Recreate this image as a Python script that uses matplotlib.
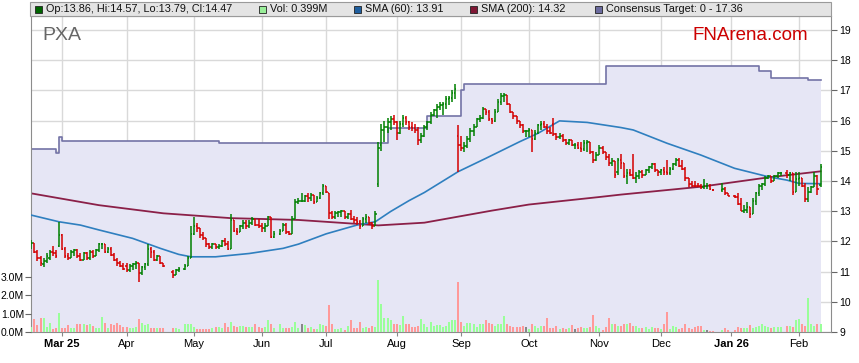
import numpy as np
import pandas as pd
import matplotlib
matplotlib.use("Agg")
import matplotlib.pyplot as plt
from matplotlib.patches import Rectangle

plt.rcParams['font.family'] = ['Liberation Sans', 'DejaVu Sans']

# ASX trading days shown (weekday axis, holidays left as gaps)
start = '2025-02-17'
holidays = ['2025-04-18', '2025-04-21', '2025-04-25', '2025-06-09',
            '2025-12-25', '2025-12-26', '2026-01-01', '2026-01-26']
days = pd.bdate_range(start, '2026-02-11')
days = days[~days.isin(pd.to_datetime(holidays))]

# daily OHLC + volume (M), month by month
opens = [
    11.80, 11.95, 11.65, 11.45, 11.25, 11.35, 11.45, 11.65, 11.60, 11.85,  # Feb
    12.20, 11.75, 11.50, 11.45, 11.65, 11.70, 11.50, 11.40, 11.60, 11.45, 11.65,
    11.50, 11.70, 11.90, 11.92, 11.65, 11.75, 11.55, 11.40, 11.30, 11.20,  # Mar
    11.20, 11.05, 11.20, 11.25, 11.30, 10.95, 11.15, 11.25, 11.75, 11.65, 11.40,
    11.50, 11.30, 11.00, 10.90, 11.05, 11.10, 11.20, 11.45,  # Apr
    12.25, 12.50, 12.45, 12.20, 12.10, 11.90, 11.80, 11.90, 11.80, 11.85, 12.00,
    11.90, 11.75, 12.70, 12.35, 12.30, 12.50, 12.60, 12.50, 12.60, 12.75, 12.55,  # May
    12.50, 12.45, 12.50, 12.80, 12.15, 12.25, 12.35, 12.55, 12.30, 12.25, 12.75,
    13.30, 13.35, 13.35, 13.50, 13.45, 13.55, 13.30, 13.45, 13.60,  # Jun
    13.85, 13.60, 12.95, 12.80, 12.95, 12.98, 13.00, 12.80, 12.90, 12.75, 12.70,
    12.65, 12.50, 12.75, 12.80, 12.60, 12.50, 13.90, 15.20, 15.70, 15.80, 15.95, 16.05,  # Jul
    15.95, 15.60, 15.90, 16.10, 15.95, 15.80, 15.75, 15.70, 15.35, 15.50, 15.80,
    15.95, 16.20, 16.35, 16.45, 16.50, 16.55, 16.70, 16.75, 16.90, 15.50,  # Aug
    15.20, 15.10, 15.15, 15.40, 15.65, 15.80, 16.05, 16.10, 16.40, 16.30, 16.05,
    16.00, 16.30, 16.60, 16.80, 16.85, 16.55, 16.30, 16.15, 16.00, 15.85, 15.65,  # Sep
    15.65, 15.70, 15.40, 15.60, 15.85, 15.90, 15.80, 15.65, 15.90, 15.55, 15.45, 15.50,
    15.35, 15.25, 15.35, 15.20, 15.20, 15.10, 15.05, 15.25, 15.30, 14.95, 14.70,  # Oct
    14.85, 15.10, 14.95, 14.80, 14.60, 14.65, 14.30, 14.70, 14.60, 14.15,
    14.25, 14.20, 14.10, 14.15, 14.30, 14.20, 14.35, 14.45, 14.55, 14.35,  # Nov
    14.30, 14.38, 14.30, 14.25, 14.40, 14.55, 14.70, 14.50, 14.40, 14.10, 13.90,
    13.85, 13.84, 13.82, 13.80, 13.85, 13.85, 13.70, 13.70, 13.72, 13.60,  # Dec
    13.50, 13.48, 13.25, 13.00, 13.05, 13.15, 12.90, 13.35, 13.60, 13.85,
    13.90, 14.10, 14.15, 14.00, 14.15, 14.25, 14.28, 14.20, 14.25, 13.65,  # Jan
    14.05, 14.10, 13.85, 13.40, 13.65, 13.80, 14.15, 13.86,  # Feb
]
highs = [
    12.05, 11.95, 11.70, 11.50, 11.45, 11.60, 11.70, 11.85, 11.70, 12.65,
    12.25, 11.80, 11.60, 11.70, 11.75, 11.75, 11.60, 11.65, 11.65, 11.70, 11.70,
    11.75, 11.95, 11.95, 11.92, 11.80, 11.80, 11.60, 11.45, 11.35, 11.30,
    11.30, 11.25, 11.30, 11.35, 11.30, 11.20, 11.30, 11.90, 11.80, 11.70, 11.55,
    11.50, 11.30, 11.05, 11.10, 11.15, 11.25, 11.50, 12.50,
    12.80, 12.60, 12.45, 12.30, 12.10, 11.95, 11.95, 11.90, 11.90, 12.05, 12.10,
    12.00, 12.90, 12.70, 12.45, 12.55, 12.70, 12.70, 12.70, 12.80, 12.75, 12.75,
    12.60, 12.60, 12.85, 12.80, 12.35, 12.40, 12.60, 12.60, 12.35, 12.85, 13.40,
    13.45, 13.60, 13.55, 13.60, 13.60, 13.55, 13.50, 13.65, 13.90,
    13.85, 13.60, 13.00, 13.00, 13.00, 13.05, 13.00, 12.95, 13.05, 12.85, 12.80,
    12.70, 12.80, 12.90, 12.80, 12.65, 13.00, 15.30, 15.90, 16.00, 16.10, 16.15, 16.20,
    16.00, 16.00, 16.20, 16.15, 16.00, 15.95, 15.90, 15.80, 15.60, 15.85, 16.00,
    16.30, 16.40, 16.55, 16.60, 16.60, 16.80, 16.80, 17.00, 17.20, 15.85,
    15.50, 15.30, 15.50, 15.75, 15.90, 16.10, 16.20, 16.45, 16.40, 16.35, 16.10,
    16.40, 16.70, 16.90, 16.90, 16.85, 16.55, 16.30, 16.15, 16.00, 15.90, 15.70,
    15.75, 15.70, 15.70, 15.90, 16.00, 16.00, 15.90, 15.80, 16.10, 15.60, 15.60, 15.55,
    15.40, 15.40, 15.35, 15.25, 15.30, 15.30, 15.35, 15.35, 15.30, 15.00, 14.95,
    15.20, 15.15, 14.95, 14.90, 14.75, 14.65, 14.75, 14.90, 14.60, 14.40,
    14.40, 14.90, 14.30, 14.35, 14.35, 14.40, 14.50, 14.60, 14.60, 14.35,
    14.40, 14.45, 14.70, 14.45, 14.60, 14.75, 14.75, 14.70, 14.45, 14.10, 14.00,
    14.00, 13.95, 13.90, 14.05, 13.95, 13.90, 13.72, 13.95, 13.80, 13.60,
    13.55, 13.60, 13.45, 13.20, 13.30, 13.15, 13.45, 13.65, 13.90, 13.95,
    14.15, 14.20, 14.15, 14.20, 14.30, 14.30, 14.35, 14.30, 14.25, 14.30,
    14.30, 14.10, 13.95, 13.80, 13.85, 14.30, 14.20, 14.57,
]
lows = [
    11.75, 11.60, 11.35, 11.20, 11.15, 11.30, 11.40, 11.50, 11.45, 11.80,
    11.70, 11.45, 11.40, 11.45, 11.50, 11.45, 11.35, 11.40, 11.40, 11.40, 11.45,
    11.50, 11.65, 11.75, 11.60, 11.60, 11.50, 11.35, 11.20, 11.15, 11.05,
    11.00, 11.00, 11.05, 11.10, 10.67, 10.90, 11.05, 11.20, 11.45, 11.35, 11.35,
    11.25, 11.15, 10.80, 10.90, 11.00, 11.05, 11.20, 11.45,
    12.20, 12.30, 12.10, 12.05, 11.80, 11.75, 11.75, 11.75, 11.75, 11.80, 11.85,
    11.70, 11.75, 12.30, 12.20, 12.30, 12.40, 12.40, 12.45, 12.55, 12.50, 12.45,
    12.30, 12.30, 12.50, 12.10, 12.10, 12.20, 12.35, 12.25, 12.20, 12.25, 12.75,
    13.25, 13.30, 13.30, 13.30, 13.35, 13.25, 13.30, 13.40, 13.55,
    13.60, 12.75, 12.75, 12.75, 12.80, 12.80, 12.75, 12.75, 12.70, 12.60, 12.55,
    12.40, 12.50, 12.60, 12.55, 12.40, 12.50, 13.80, 15.00, 15.30, 15.60, 15.70, 15.85,
    15.35, 15.55, 15.80, 15.85, 15.70, 15.65, 15.60, 15.20, 15.25, 15.45, 15.70,
    15.90, 16.15, 16.10, 16.35, 16.20, 16.40, 16.50, 16.60, 16.70, 14.30,
    15.00, 14.95, 15.10, 15.30, 15.50, 15.80, 15.95, 16.05, 16.20, 16.00, 15.90,
    15.95, 16.30, 16.50, 16.60, 16.50, 16.25, 16.05, 15.90, 15.75, 15.60, 15.45,
    15.45, 14.95, 15.35, 15.55, 15.70, 15.75, 15.55, 15.55, 15.50, 15.35, 15.40, 15.30,
    15.20, 15.20, 15.15, 15.05, 15.05, 14.95, 15.00, 14.95, 14.90, 14.60, 14.65,
    14.85, 14.90, 14.70, 14.50, 14.50, 14.10, 14.20, 14.40, 14.10, 13.90,
    14.15, 14.05, 13.95, 14.05, 14.10, 14.20, 14.25, 14.40, 14.30, 14.15,
    14.20, 14.20, 14.20, 14.20, 14.35, 14.50, 14.45, 14.35, 14.00, 13.80, 13.80,
    13.80, 13.80, 13.75, 13.75, 13.75, 13.70, 13.68, 13.65, 13.55, 13.50,
    13.45, 13.20, 13.00, 12.95, 12.95, 12.76, 12.90, 13.20, 13.50, 13.70,
    13.85, 14.05, 13.95, 14.00, 14.10, 14.15, 14.10, 14.00, 13.55, 13.65,
    13.85, 13.80, 13.30, 13.30, 13.60, 13.80, 13.55, 13.79,
]
closes = [
    11.95, 11.65, 11.45, 11.30, 11.35, 11.50, 11.65, 11.60, 11.50, 12.20,
    11.75, 11.50, 11.45, 11.65, 11.70, 11.50, 11.40, 11.60, 11.45, 11.65, 11.50,
    11.70, 11.90, 11.92, 11.65, 11.75, 11.55, 11.40, 11.30, 11.20, 11.10,
    11.05, 11.20, 11.25, 11.30, 10.95, 11.15, 11.25, 11.75, 11.65, 11.40, 11.50,
    11.30, 11.20, 10.90, 11.05, 11.10, 11.20, 11.45, 12.25,
    12.50, 12.45, 12.20, 12.10, 11.90, 11.80, 11.90, 11.80, 11.85, 12.00, 11.90,
    11.75, 12.70, 12.35, 12.30, 12.50, 12.60, 12.50, 12.60, 12.75, 12.55, 12.50,
    12.45, 12.50, 12.80, 12.15, 12.25, 12.35, 12.55, 12.30, 12.25, 12.75, 13.30,
    13.35, 13.35, 13.50, 13.45, 13.55, 13.30, 13.45, 13.60, 13.85,
    13.65, 12.95, 12.80, 12.95, 12.98, 13.00, 12.80, 12.90, 12.75, 12.70, 12.65,
    12.50, 12.75, 12.80, 12.60, 12.50, 12.90, 15.10, 15.70, 15.80, 15.95, 16.05, 15.95,
    15.60, 15.90, 16.10, 15.95, 15.80, 15.75, 15.70, 15.35, 15.50, 15.80, 15.95,
    16.20, 16.35, 16.45, 16.50, 16.55, 16.70, 16.75, 16.90, 17.05, 15.20,
    15.10, 15.15, 15.40, 15.65, 15.80, 16.05, 16.10, 16.40, 16.30, 16.05, 16.00,
    16.30, 16.60, 16.80, 16.85, 16.55, 16.30, 16.15, 16.00, 15.85, 15.65, 15.65,
    15.70, 15.40, 15.60, 15.85, 15.90, 15.80, 15.65, 15.60, 15.55, 15.45, 15.50, 15.35,
    15.25, 15.35, 15.20, 15.20, 15.10, 15.05, 15.25, 15.30, 14.95, 14.70, 14.85,
    15.10, 14.95, 14.80, 14.60, 14.65, 14.20, 14.70, 14.60, 14.15, 14.25,
    14.20, 14.10, 14.15, 14.30, 14.20, 14.35, 14.45, 14.55, 14.35, 14.30,
    14.38, 14.30, 14.25, 14.40, 14.55, 14.70, 14.50, 14.40, 14.10, 13.90, 13.85,
    13.84, 13.82, 13.80, 13.85, 13.85, 13.75, 13.70, 13.72, 13.60, 13.50,
    13.48, 13.25, 13.00, 13.05, 13.15, 12.90, 13.35, 13.60, 13.85, 13.90,
    14.10, 14.15, 14.00, 14.15, 14.25, 14.28, 14.20, 14.25, 13.65, 14.05,
    14.10, 13.85, 13.40, 13.65, 13.80, 14.15, 13.75, 14.47,
]
volumes = [
    0.27, 0.69, 0.38, 0.76, 0.76, 0.27, 0.49, 0.15, 0.20, 1.04,
    0.20, 0.20, 0.38, 0.20, 0.20, 0.42, 0.45, 0.42, 0.38, 0.42, 0.33,
    0.20, 0.20, 0.82, 0.47, 0.20, 0.42, 0.38, 0.50, 0.38, 0.27,
    0.27, 0.20, 0.20, 0.27, 0.69, 0.49, 0.38, 0.42, 0.18, 0.20, 0.20,
    0.20, 0.20, 0.20, 0.20, 0.15, 0.42, 0.42, 0.42,
    0.27, 0.13, 0.13, 0.15, 0.15, 0.15, 0.20, 0.27, 0.27, 0.20, 0.50,
    0.27, 0.55, 0.29, 0.27, 0.33, 0.33, 0.27, 0.27, 0.27, 0.42, 0.27,
    0.20, 0.27, 0.64, 0.42, 0.20, 0.42, 0.20, 0.20, 0.20, 0.27, 0.55,
    0.20, 0.43, 0.36, 0.22, 0.27, 0.16, 0.15, 0.40, 0.38,
    0.33, 1.45, 0.42, 0.15, 0.15, 0.20, 0.08, 0.33, 0.67, 0.20, 0.20,
    0.55, 0.20, 0.27, 0.20, 0.33, 0.27, 2.85, 1.53, 0.73, 0.76, 0.67, 0.40,
    0.45, 0.38, 0.87, 0.40, 0.45, 0.27, 0.27, 0.33, 0.71, 0.45, 0.27,
    0.55, 0.33, 0.36, 0.36, 0.27, 0.33, 0.55, 0.67, 0.67, 2.76,
    0.55, 0.33, 0.50, 0.50, 0.40, 0.27, 0.45, 0.45, 0.64, 0.50, 0.40,
    0.33, 0.45, 0.45, 0.87, 0.40, 0.33, 0.27, 0.27, 0.27, 0.33, 0.27,
    0.15, 0.45, 0.33, 0.20, 0.33, 0.33, 0.73, 0.20, 0.20, 0.33, 0.15, 0.20,
    0.15, 0.20, 0.36, 0.15, 0.20, 0.27, 0.20, 0.20, 0.27, 0.93, 0.33,
    0.20, 0.10, 0.27, 0.76, 0.42, 0.45, 0.33, 0.33, 0.40, 0.40,
    0.50, 0.33, 0.33, 0.22, 0.20, 0.27, 0.15, 0.27, 0.20, 0.20,
    0.15, 0.42, 1.07, 0.15, 0.30, 0.27, 0.15, 0.20, 0.40, 0.20, 0.15,
    0.25, 0.33, 0.30, 0.10, 0.10, 0.04, 0.02, 0.10, 0.20, 0.10,
    0.10, 0.27, 0.22, 0.22, 0.22, 0.38, 0.22, 0.27, 0.33, 0.45,
    0.29, 0.24, 0.22, 0.27, 0.27, 0.27, 0.33, 0.33, 0.27, 0.64,
    0.69, 0.45, 0.33, 1.87, 0.45, 0.33, 0.40, 0.399,
]

# moving averages, sampled along the drawn lines
sma60_dates = ['2025-02-17', '2025-02-28', '2025-03-11', '2025-03-19', '2025-04-03',
               '2025-04-16', '2025-04-24', '2025-04-30', '2025-05-12', '2025-05-27',
               '2025-06-11', '2025-06-18', '2025-07-01', '2025-07-15', '2025-07-23',
               '2025-07-30', '2025-08-07', '2025-08-14', '2025-08-29', '2025-09-11',
               '2025-09-26', '2025-10-06', '2025-10-15', '2025-10-28', '2025-11-12',
               '2025-11-18', '2025-12-03', '2025-12-18', '2026-01-02', '2026-01-19',
               '2026-01-27', '2026-02-02', '2026-02-11']
sma60_vals = [12.87, 12.65, 12.54, 12.38, 12.10, 11.77, 11.57, 11.49, 11.49, 11.60,
              11.77, 11.91, 12.25, 12.54, 12.65, 12.99, 13.35, 13.62, 14.31, 14.75,
              15.30, 15.58, 15.99, 15.94, 15.77, 15.69, 15.25, 14.86, 14.42, 14.14,
              14.03, 13.92, 13.91]
sma200_dates = ['2025-02-17', '2025-03-19', '2025-04-17', '2025-05-19', '2025-06-18',
                '2025-07-15', '2025-07-24', '2025-08-14', '2025-08-29', '2025-09-15',
                '2025-10-01', '2025-11-03', '2025-11-12', '2025-12-18', '2026-01-19',
                '2026-02-11']
sma200_vals = [13.59, 13.20, 12.93, 12.77, 12.71, 12.58, 12.53, 12.62, 12.82, 13.02,
               13.22, 13.47, 13.55, 13.81, 14.12, 14.32]

# consensus target (changes)
target_dates = ['2025-02-17', '2025-02-27', '2025-02-28', '2025-03-03', '2025-05-13',
                '2025-07-29', '2025-08-15', '2025-09-01', '2025-09-02', '2025-11-05',
                '2026-01-14', '2026-01-20', '2026-02-05', '2026-02-11']
target_vals = [15.07, 14.92, 15.47, 15.33, 15.25, 15.74, 16.15, 17.00, 17.20, 17.80,
               17.65, 17.40, 17.36, 17.36]

month_dates = ['2025-03-03', '2025-04-01', '2025-05-01', '2025-06-02', '2025-07-01',
               '2025-08-01', '2025-09-01', '2025-10-01', '2025-11-03', '2025-12-01',
               '2026-01-01', '2026-02-02']
month_labels = ['Mar 25', 'Apr', 'May', 'Jun', 'Jul', 'Aug', 'Sep', 'Oct', 'Nov',
                'Dec', 'Jan 26', 'Feb']


def wd(d):
    d = np.array(d, dtype='datetime64[D]')
    return np.busday_count(np.datetime64(start), d)


x = wd(days.values.astype('datetime64[D]'))
o, h, l, c = map(np.array, (opens, highs, lows, closes))
v = np.array(volumes)
prev = np.r_[o[0], c[:-1]]
up = c > prev
flat = c == prev
bar_col = np.where(up | flat, '#008000', '#d40000')
vol_col = np.where(flat, '#888888', np.where(up, '#99ff99', '#ff9999'))

W, H = 859, 363
fig = plt.figure(figsize=(W / 100, H / 100), dpi=100)
ax = fig.add_axes([31 / W, 31 / H, 800 / W, 316 / H])

ax.set_xlim(-0.1, 260.4)
ax.set_ylim(9, 9 + 316 / 30.2)
ax.set_axisbelow(True)
ax.grid(True, color='#d9d9d9', lw=1.0)

tx = wd(target_dates)
ax.fill_between(tx, 0, target_vals, step='post', color='#e6e6f5', lw=0, zorder=1)
ax.plot(tx, target_vals, drawstyle='steps-post', color='#7373a6', lw=1.2, zorder=2)

ax.plot(wd(sma200_dates), sma200_vals, color='#8b2048', lw=1.3, zorder=2.5)
ax.plot(wd(sma60_dates), sma60_vals, color='#2f7fbf', lw=1.2, zorder=2.6)

ax.vlines(x, l, h, colors=bar_col, lw=1.1, zorder=3)
ax.hlines(o, x - 0.45, x, colors=bar_col, lw=1.1, zorder=3)
ax.hlines(c, x, x + 0.45, colors=bar_col, lw=1.1, zorder=3)

ax.set_xticks(wd(month_dates))
ax.set_xticklabels(month_labels)
for t in ax.get_xticklabels():
    if ' ' in t.get_text():
        t.set_fontweight('bold')
ax.set_yticks(range(9, 20))
for s in ax.spines.values():
    s.set_color('#8c8c8c')

ax_v = ax.twinx()
ax_v.bar(x, v, width=0.65, color=vol_col, lw=0, zorder=2)
ax_v.set_ylim(-0.02, 316 / 18.1)
ax_v.yaxis.tick_left()
ax_v.set_yticks([0, 1, 2, 3])
ax_v.set_yticklabels(['0.0M', '1.0M', '2.0M', '3.0M'])
ax_v.tick_params(axis='y', length=4, pad=1, labelsize=7.5, color='#666666')
for s in ax_v.spines.values():
    s.set_visible(False)

# price scale on the right (after twinx, which moves it)
ax.yaxis.tick_right()
ax.tick_params(axis='x', length=3, pad=2, labelsize=8, color='#888888')
ax.tick_params(axis='y', length=4, pad=2, labelsize=7.5, color='#666666')


def fx(px):
    return px / W


def fy(py):
    return 1 - py / H


# header strip with legend values
fig.patches.append(Rectangle((fx(30), fy(16)), 801 / W, 14 / H, transform=fig.transFigure,
                             fc='#e4e4e4', ec='#9a9a9a', lw=0.8))
items = [
    (35, '#006400', f'Op:{o[-1]:.2f}, Hi:{h[-1]:.2f}, Lo:{l[-1]:.2f}, Cl:{c[-1]:.2f}'),
    (259, '#99ee99', f'Vol: {v[-1]:.3f}M'),
    (354, '#1f5f9f', f'SMA (60): {sma60_vals[-1]:.2f}'),
    (470, '#7f1734', f'SMA (200): {sma200_vals[-1]:.2f}'),
    (595, '#6b6b9e', f'Consensus Target: 0 - {target_vals[-1]:.2f}'),
]
for px, col, txt in items:
    fig.patches.append(Rectangle((fx(px), fy(12.5)), 6.5 / W, 6.5 / H, transform=fig.transFigure,
                                 fc=col, ec='#222222', lw=0.6))
    fig.text(fx(px + 11), fy(9.5), txt, fontsize=7.8, va='center', ha='left', color='#111111')

fig.text(fx(42), fy(40), 'PXA', fontsize=14, color='#666666', va='baseline')
fig.text(fx(808), fy(40), 'FNArena.com', fontsize=13.5, color='#cc0000', va='baseline', ha='right')

fig.savefig('out.png', dpi=100)
